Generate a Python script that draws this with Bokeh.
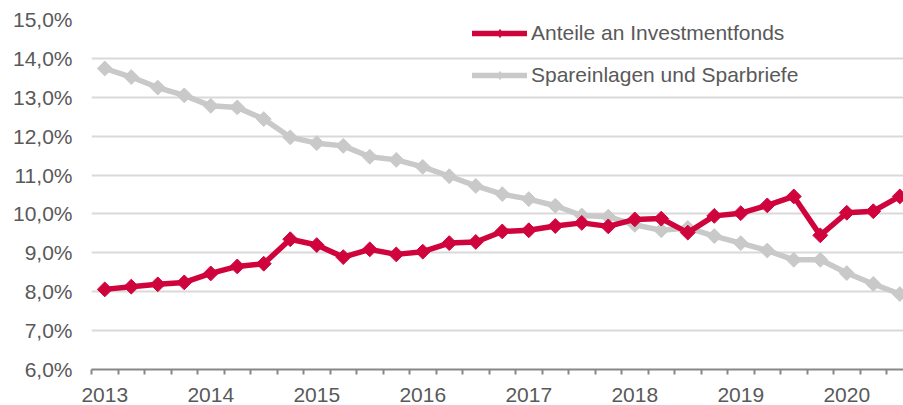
from bokeh.plotting import figure
from bokeh.models import ColumnDataSource, FixedTicker, Range1d, Legend, LegendItem
from bokeh.embed import file_html
from bokeh.resources import INLINE

# ---- data ----
years = ["2013", "2014", "2015", "2016", "2017", "2018", "2019", "2020"]
quarters = [f"{y} Q{q}" for y in years for q in (1, 2, 3, 4)][:31]

investmentfonds = [8.06, 8.13, 8.19, 8.24, 8.47, 8.65, 8.72, 9.35,
                   9.20, 8.89, 9.09, 8.96, 9.03, 9.25, 9.28, 9.55,
                   9.58, 9.69, 9.77, 9.68, 9.86, 9.88, 9.52, 9.95,
                   10.02, 10.22, 10.45, 9.45, 10.03, 10.07, 10.45]
spareinlagen = [13.74, 13.52, 13.25, 13.05, 12.78, 12.74, 12.44, 11.97,
                11.82, 11.75, 11.47, 11.39, 11.21, 10.97, 10.72, 10.51,
                10.38, 10.21, 9.96, 9.93, 9.72, 9.58, 9.64, 9.43,
                9.25, 9.06, 8.82, 8.82, 8.48, 8.20, 7.94]
y_ticks = [6, 7, 8, 9, 10, 11, 12, 13, 14, 15]
y_tick_labels = ["6,0%", "7,0%", "8,0%", "9,0%", "10,0%", "11,0%",
                 "12,0%", "13,0%", "14,0%", "15,0%"]
series_names = ["Anteile an Investmentfonds", "Spareinlagen und Sparbriefe"]

RED = "#D0043C"
GRAY = "#C9C9C9"
TEXT = "#595959"
FONT = "Liberation Sans"

idx = list(range(len(quarters)))
src = ColumnDataSource(dict(x=idx, q=quarters, inv=investmentfonds, spar=spareinlagen))
nan_src = ColumnDataSource(dict(x=[float("nan")], y=[float("nan")]))

p = figure(width=903, height=405, output_backend="svg", toolbar_location=None,
           x_range=Range1d(-0.5, 30.14), y_range=Range1d(6, 15),
           min_border_left=91, min_border_right=0, min_border_top=19,
           min_border_bottom=36)
p.outline_line_color = None
p.background_fill_color = "white"

# grid
p.xgrid.visible = False
p.ygrid.ticker = FixedTicker(ticks=y_ticks)
p.ygrid.grid_line_color = "#D9D9D9"
p.ygrid.grid_line_width = 2

# y axis
p.yaxis.ticker = FixedTicker(ticks=y_ticks)
p.yaxis.major_label_overrides = {t: l for t, l in zip(y_ticks, y_tick_labels)}
p.yaxis.axis_line_color = None
p.yaxis.major_tick_line_color = None
p.yaxis.minor_tick_line_color = None
p.yaxis.major_tick_out = 0
p.yaxis.major_label_standoff = 19
p.yaxis.major_label_text_font = FONT
p.yaxis.major_label_text_font_size = "21px"
p.yaxis.major_label_text_color = TEXT

# x axis: labels at each year's first quarter, ticks between quarters
year_pos = [i for i, q in enumerate(quarters) if q.endswith("Q1")]
p.xaxis.ticker = FixedTicker(ticks=year_pos,
                             minor_ticks=[i - 0.5 for i in idx])
p.xaxis.major_label_overrides = {i: quarters[i][:4] for i in year_pos}
p.xaxis.axis_line_color = "#878787"
p.xaxis.axis_line_width = 2
p.xaxis.major_tick_line_color = None
p.xaxis.major_tick_out = 0
p.xaxis.major_tick_in = 0
p.xaxis.minor_tick_line_color = "#878787"
p.xaxis.minor_tick_line_width = 2
p.xaxis.minor_tick_out = 5
p.xaxis.minor_tick_in = 0
p.xaxis.major_label_standoff = 13
p.xaxis.major_label_text_font = FONT
p.xaxis.major_label_text_font_size = "21px"
p.xaxis.major_label_text_color = TEXT

# series
items = {}
for col, color, name in (("spar", GRAY, series_names[1]), ("inv", RED, series_names[0])):
    ln = p.line("x", col, source=src, line_color=color, line_width=5.5,
                line_join="round", line_cap="round")
    p.scatter("x", col, source=src, marker="square", angle=0.785398, size=10.5,
              fill_color=color, line_color=color, line_width=1)
    lg_mk = p.scatter("x", "y", source=nan_src, marker="diamond", size=10,
                      fill_color=color, line_color=color)
    items[name] = LegendItem(label=name, renderers=[ln, lg_mk])

leg = Legend(items=[items[n] for n in series_names])
leg.location = (381, 282)
leg.background_fill_alpha = 0
leg.border_line_color = None
leg.padding = 0
leg.margin = 0
leg.spacing = 18
leg.glyph_width = 55
leg.glyph_height = 20
leg.label_height = 20
leg.label_standoff = 4
leg.label_text_font = FONT
leg.label_text_font_size = "21px"
leg.label_text_color = TEXT
p.add_layout(leg, "center")

open("out.html", "w").write(file_html(p, INLINE))
